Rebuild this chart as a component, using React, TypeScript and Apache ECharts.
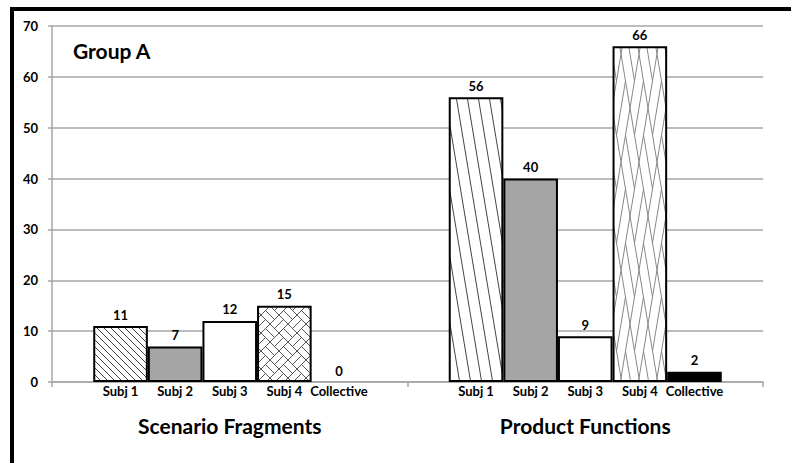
import React, { useEffect, useRef } from "react";
import * as echarts from "echarts";

const groups = ["Scenario Fragments", "Product Functions"];
const subjects = ["Subj 1", "Subj 2", "Subj 3", "Subj 4", "Collective"];
const subj1 = [11, 56];
const subj2 = [7, 40];
const subj3 = [12, 9];
const subj4 = [15, 66];
const collective = [0, 2];
const yMin = 0;
const yMax = 70;
const yStep = 10;
const chartTitle = "Group A";

const FONT = "Lato, 'Open Sans', sans-serif";

function diagTile(p: number, k: number, color: string) {
  const w = p;
  const h = Math.round(p * k);
  const c = document.createElement("canvas");
  c.width = w;
  c.height = h;
  const ctx = c.getContext("2d")!;
  ctx.fillStyle = "#fff";
  ctx.fillRect(0, 0, w, h);
  ctx.strokeStyle = color;
  ctx.lineWidth = 1;
  for (let i = -1; i <= 1; i++) {
    ctx.beginPath();
    ctx.moveTo(i * w, 0);
    ctx.lineTo(i * w + w, h);
    ctx.stroke();
  }
  return { image: c.toDataURL(), repeat: "repeat", imageWidth: w, imageHeight: h };
}

function weaveTile(T: number, k: number, color: string) {
  const W = T;
  const H = Math.round(T * k);
  const c = document.createElement("canvas");
  c.width = W;
  c.height = H;
  const ctx = c.getContext("2d")!;
  ctx.fillStyle = "#fff";
  ctx.fillRect(0, 0, W, H);
  ctx.strokeStyle = color;
  ctx.lineWidth = 1;
  const L = T / Math.SQRT2;
  const a = L / 2;
  const map = (u: number, v: number) => {
    const x = (u - v) / Math.SQRT2;
    const y = ((u + v) / Math.SQRT2) * (H / T);
    return [x, y];
  };
  const seg = (u1: number, v1: number, u2: number, v2: number) => {
    const p1 = map(u1, v1);
    const p2 = map(u2, v2);
    ctx.beginPath();
    ctx.moveTo(p1[0], p1[1]);
    ctx.lineTo(p2[0], p2[1]);
    ctx.stroke();
  };
  for (let i = -3; i <= 7; i++) {
    for (let j = -5; j <= 5; j++) {
      const u0 = i * a;
      const v0 = j * a;
      const par = (((i + j) % 2) + 2) % 2;
      for (let t = 0; t <= 2; t++) {
        if (par === 0) seg(u0, v0 + (t * a) / 2, u0 + a, v0 + (t * a) / 2);
        else seg(u0 + (t * a) / 2, v0, u0 + (t * a) / 2, v0 + a);
      }
    }
  }
  return { image: c.toDataURL(), repeat: "repeat", imageWidth: W, imageHeight: H };
}

export default function App() {
  const ref = useRef<HTMLDivElement>(null);
  useEffect(() => {
    if (!ref.current) return;
    const chart = echarts.init(ref.current, null, { renderer: "svg" });

    const fills = [
      [diagTile(7, 1, "#444"), diagTile(11, 6, "#444")],
      ["#a5a5a5", "#a5a5a5"],
      ["#ffffff", "#ffffff"],
      [weaveTile(36, 1, "#555"), weaveTile(36, 6, "#888")],
      ["#000000", "#000000"],
    ];
    const values = [subj1, subj2, subj3, subj4, collective];

    const labelStyle = {
      fontFamily: FONT,
      fontWeight: "bold" as const,
      fontSize: 13,
      color: "#000",
    };

    const realSeries = subjects.map((name, si) => ({
      type: "bar",
      name,
      xAxisIndex: 0,
      barGap: "0%",
      barCategoryGap: "23.2%",
      data: values[si].map((v, gi) => ({
        value: v,
        itemStyle: { color: fills[si][gi], borderWidth: v === 0 ? 0 : 2 },
      })),
      itemStyle: { borderColor: "#000", borderWidth: 2 },
      label: { show: true, position: "top", distance: 5, ...labelStyle },
      z: 3,
    }));

    const nameSeries = subjects.map((name, si) => ({
      type: "bar",
      name: name + " label",
      xAxisIndex: 1,
      barGap: "0%",
      barCategoryGap: "23.2%",
      silent: true,
      data: values[si].map(() => 0),
      itemStyle: { color: "rgba(0,0,0,0)", borderWidth: 0 },
      label: { show: true, position: "bottom", distance: 2, formatter: name, ...labelStyle },
      z: 4,
    }));

    chart.setOption({
      animation: false,
      backgroundColor: "#fff",
      grid: { left: 52, right: 28, top: 26, bottom: 81, containLabel: false },
      xAxis: [
        {
          type: "category",
          data: groups,
          axisLine: { show: true, lineStyle: { color: "#a6a6a6", width: 1.5 } },
          axisTick: { show: true, length: 5, lineStyle: { color: "#a6a6a6", width: 1.5 } },
          axisLabel: {
            margin: 33,
            fontFamily: FONT,
            fontWeight: "bold",
            fontSize: 21,
            color: "#000",
          },
          splitLine: { show: false },
        },
        {
          type: "category",
          data: groups,
          show: false,
        },
      ],
      yAxis: {
        type: "value",
        min: yMin,
        max: yMax,
        interval: yStep,
        axisLine: { show: true, lineStyle: { color: "#a6a6a6", width: 1.5 } },
        axisTick: { show: true, length: 4, lineStyle: { color: "#a6a6a6", width: 1.5 } },
        axisLabel: { margin: 14, ...labelStyle },
        splitLine: { show: true, lineStyle: { color: "#a6a6a6", width: 1.5 } },
      },
      graphic: [
        {
          type: "rect",
          shape: { x: 12, y: 9, width: 800, height: 500 },
          style: { fill: "none", stroke: "#000", lineWidth: 4 },
          z: 10,
        },
        {
          type: "text",
          left: 73,
          top: 40,
          style: {
            text: chartTitle,
            fontFamily: FONT,
            fontWeight: "bold",
            fontSize: 21,
            fill: "#000",
          },
          z: 10,
        },
      ],
      series: [...realSeries, ...nameSeries],
    });
    return () => chart.dispose();
  }, []);
  return (
    <div
      ref={ref}
      style={{ position: "absolute", left: 0, top: 0, width: 791, height: 463, background: "#fff" }}
    />
  );
}
